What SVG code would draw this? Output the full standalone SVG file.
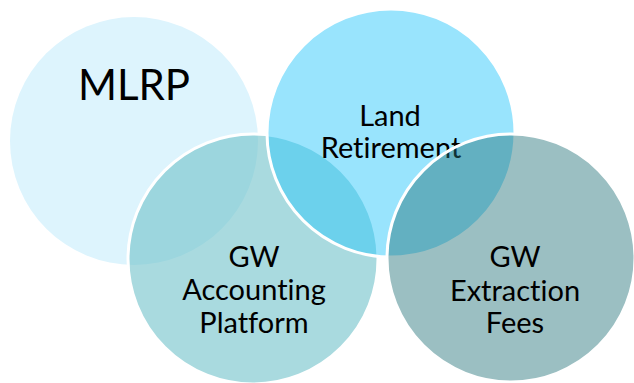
<svg xmlns="http://www.w3.org/2000/svg" width="634" height="383" viewBox="0 0 634 383">
<style>
.lbl{font-family:Lato,"Open Sans","DejaVu Sans",sans-serif;fill:#000;text-anchor:middle;font-variant-ligatures:none;font-feature-settings:"liga" 0}
.sm{font-size:29px}
.big{font-size:42px}
.edge{stroke:#fff;stroke-width:3}
</style>
<rect width="634" height="383" fill="#fff"/>
<g id="mlrp">
<circle cx="134" cy="141" r="124" fill="#ddf4fd"/>
<text class="lbl big" x="134" y="100">MLRP</text>
</g>
<g id="gw-accounting">
<circle class="edge" cx="253" cy="259" r="125" fill="#74c3cb" fill-opacity="0.62"/>
</g>
<g id="land-retirement">
<circle class="edge" cx="391" cy="133" r="124" fill="#2ac6fa" fill-opacity="0.48"/>
<text class="lbl sm" x="390" y="126">Land</text>
<text class="lbl sm" x="391" y="158">Retirement</text>
</g>
<g id="gw-accounting-label">
<text class="lbl sm" x="254" y="267">GW</text>
<text class="lbl sm" x="254" y="300">Accounting</text>
<text class="lbl sm" x="254" y="333">Platform</text>
</g>
<g id="gw-extraction">
<circle class="edge" cx="511" cy="258" r="124" fill="#217178" fill-opacity="0.45"/>
<text class="lbl sm" x="515" y="267">GW</text>
<text class="lbl sm" x="515" y="301">Extraction</text>
<text class="lbl sm" x="515" y="333">Fees</text>
</g>
<g id="connectors"/>
</svg>
